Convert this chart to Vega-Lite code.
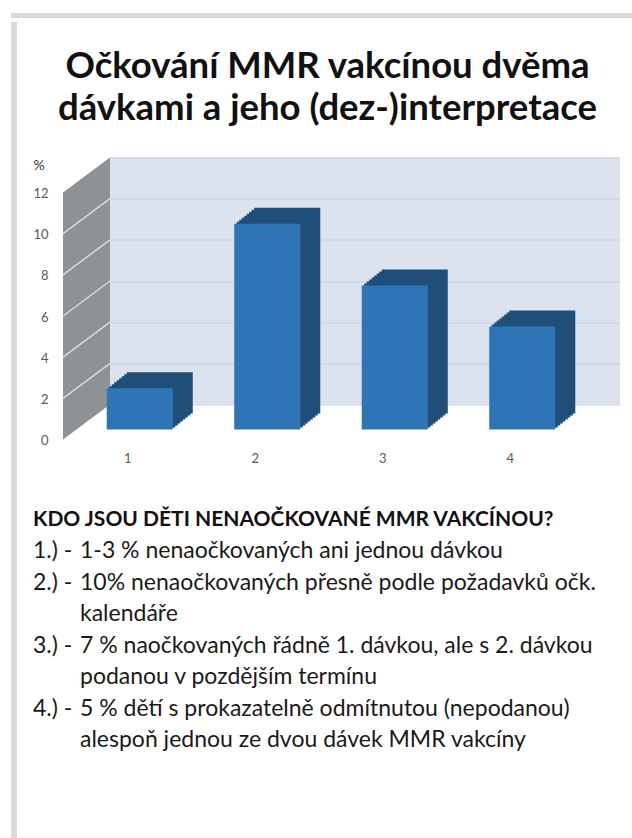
{
  "$schema": "https://vega.github.io/schema/vega-lite/v6.json",
  "background": "white",
  "padding": {"left": 11, "top": 12, "right": 0, "bottom": 0},
  "config": {"view": {"stroke": null}, "font": "Lato"},
  "spacing": 0,
  "vconcat": [
    {
      "width": 621,
      "height": 5,
      "view": {"fill": "#d9d9d9", "stroke": null},
      "data": {"values": [{"part": "frame"}]},
      "mark": {"type": "point", "opacity": 0},
      "encoding": {}
    },
    {
      "spacing": 0,
      "hconcat": [
        {
          "width": 6,
          "height": 821,
          "view": {"fill": "#d9d9d9", "stroke": null},
          "data": {"values": [{"part": "frame"}]},
          "mark": {"type": "point", "opacity": 0},
          "encoding": {}
        },
        {
          "spacing": 22.5,
          "vconcat": [
            {
              "width": 1,
              "height": 1,
              "data": {"values": [{"part": "spacer"}]},
              "mark": {"type": "point", "opacity": 0},
              "encoding": {}
            },
            {
              "width": 510,
              "height": 247,
              "view": {"fill": "#dce2ee", "stroke": null},
              "title": {
                "text": ["Očkování MMR vakcínou dvěma", "dávkami a jeho (dez-)interpretace"],
                "anchor": "middle",
                "frame": "group",
                "offset": 30,
                "dx": -37.5,
                "font": "Lato",
                "fontSize": 36.5,
                "fontWeight": "bold",
                "lineHeight": 42,
                "color": "#111111"
              },
              "data": {"values": [
                {"dose": "1", "pct": 2},
                {"dose": "2", "pct": 10},
                {"dose": "3", "pct": 7},
                {"dose": "4", "pct": 5}
              ]},
              "layer": [
                {
                  "data": {"values": [{"part": "side wall"}]},
                  "mark": {"type": "point", "shape": "M0.1667,-1L0.1667,0.752L-0.1667,1L-0.1667,-0.752Z", "size": 79524, "filled": true, "color": "#8e9297", "opacity": 1, "yOffset": 17.5},
                  "encoding": {
                    "x": {"value": -23.5},
                    "y": {"datum": 6, "type": "quantitative", "scale": {"domain": [0, 12], "nice": false},
                      "axis": {"title": "%", "titleAngle": 0, "titleX": -77, "titleY": 8, "titleAlign": "left", "titleBaseline": "middle", "titleFont": "Lato", "titleFontSize": 14, "titleFontWeight": "normal", "titleColor": "#333333",
                        "values": [0, 2, 4, 6, 8, 10, 12], "labelOffset": 36, "labelPadding": 62, "ticks": false, "tickSize": 0, "domain": false, "grid": true, "gridColor": "#c8cfdc", "gridWidth": 1, "labelFont": "Lato", "labelFontSize": 13, "labelColor": "#595959", "minExtent": 93}}
                  }
                },
                {
                  "data": {"values": [{"v": 2}, {"v": 4}, {"v": 6}, {"v": 8}, {"v": 10}]},
                  "mark": {"type": "rule", "color": "#d9dbde", "strokeWidth": 1.5, "yOffset": 35, "y2Offset": 0},
                  "encoding": {
                    "x": {"value": -47},
                    "x2": {"value": 0},
                    "y": {"field": "v", "type": "quantitative"},
                    "y2": {"field": "v"}
                  }
                },
                {"mark": {"type": "bar", "color": "#1f4e79", "xOffset": -31.5, "x2Offset": -31.5, "yOffset": 23, "y2Offset": 23},
                 "encoding": {"x": {"field": "dose", "type": "nominal", "scale": {"paddingInner": 0.482, "paddingOuter": 0.241}, "axis": {"title": null, "labelAngle": 0, "labelOffset": -46, "labelPadding": 48, "ticks": false, "tickSize": 0, "domain": false, "labelFont": "Lato", "labelFontSize": 13, "labelColor": "#595959"}}, "y": {"field": "pct", "type": "quantitative"}}},
                {"mark": {"type": "bar", "color": "#1f4e79", "xOffset": -29, "x2Offset": -29, "yOffset": 21, "y2Offset": 21},
                 "encoding": {"x": {"field": "dose", "type": "nominal"}, "y": {"field": "pct", "type": "quantitative"}}},
                {"mark": {"type": "bar", "color": "#1f4e79", "xOffset": -26.5, "x2Offset": -26.5, "yOffset": 19, "y2Offset": 19},
                 "encoding": {"x": {"field": "dose", "type": "nominal"}, "y": {"field": "pct", "type": "quantitative"}}},
                {"mark": {"type": "bar", "color": "#1f4e79", "xOffset": -24, "x2Offset": -24, "yOffset": 17, "y2Offset": 17},
                 "encoding": {"x": {"field": "dose", "type": "nominal"}, "y": {"field": "pct", "type": "quantitative"}}},
                {"mark": {"type": "bar", "color": "#1f4e79", "xOffset": -21.5, "x2Offset": -21.5, "yOffset": 15, "y2Offset": 15},
                 "encoding": {"x": {"field": "dose", "type": "nominal"}, "y": {"field": "pct", "type": "quantitative"}}},
                {"mark": {"type": "bar", "color": "#1f4e79", "xOffset": -19, "x2Offset": -19, "yOffset": 13, "y2Offset": 13},
                 "encoding": {"x": {"field": "dose", "type": "nominal"}, "y": {"field": "pct", "type": "quantitative"}}},
                {"mark": {"type": "bar", "color": "#1f4e79", "xOffset": -16.5, "x2Offset": -16.5, "yOffset": 11, "y2Offset": 11},
                 "encoding": {"x": {"field": "dose", "type": "nominal"}, "y": {"field": "pct", "type": "quantitative"}}},
                {"mark": {"type": "bar", "color": "#1f4e79", "xOffset": -14, "x2Offset": -14, "yOffset": 9, "y2Offset": 9},
                 "encoding": {"x": {"field": "dose", "type": "nominal"}, "y": {"field": "pct", "type": "quantitative"}}},
                {"mark": {"type": "bar", "color": "#2e75b6", "xOffset": -34, "x2Offset": -34, "yOffset": 25, "y2Offset": 25},
                 "encoding": {"x": {"field": "dose", "type": "nominal"}, "y": {"field": "pct", "type": "quantitative"}}}
              ]
            },
            {
              "width": 500,
              "height": 284,
              "data": {"values": [
                {"line": 1, "col": "num", "kind": "header", "text": "KDO JSOU DĚTI NENAOČKOVANÉ MMR VAKCÍNOU?"},
                {"line": 2, "col": "num", "kind": "item", "text": "1.) -"},
                {"line": 2, "col": "text", "kind": "item", "text": "1-3 % nenaočkovaných ani jednou dávkou"},
                {"line": 3, "col": "num", "kind": "item", "text": "2.) -"},
                {"line": 3, "col": "text", "kind": "item", "text": "10% nenaočkovaných přesně podle požadavků očk."},
                {"line": 4, "col": "text", "kind": "item", "text": "kalendáře"},
                {"line": 5, "col": "num", "kind": "item", "text": "3.) -"},
                {"line": 5, "col": "text", "kind": "item", "text": "7 % naočkovaných řádně 1. dávkou, ale s 2. dávkou"},
                {"line": 6, "col": "text", "kind": "item", "text": "podanou v pozdějším termínu"},
                {"line": 7, "col": "num", "kind": "item", "text": "4.) -"},
                {"line": 7, "col": "text", "kind": "item", "text": "5 % dětí s prokazatelně odmítnutou (nepodanou)"},
                {"line": 8, "col": "text", "kind": "item", "text": "alespoň jednou ze dvou dávek MMR vakcíny"}
              ]},
              "encoding": {
                "x": {"field": "col", "type": "ordinal", "scale": {"type": "point", "domain": ["num", "text"], "range": [-77, -30], "padding": 0}, "axis": null},
                "y": {"field": "line", "type": "ordinal", "scale": {"type": "point", "padding": 1.233}, "axis": null},
                "text": {"field": "text"}
              },
              "layer": [
                {"transform": [{"filter": "datum.kind === 'header'"}],
                 "mark": {"type": "text", "align": "left", "baseline": "middle", "font": "Lato", "fontSize": 21, "fontWeight": "bold", "color": "#111111"}},
                {"transform": [{"filter": "datum.kind !== 'header'"}],
                 "mark": {"type": "text", "align": "left", "baseline": "middle", "font": "Lato", "fontSize": 23, "color": "#1a1a1a"}}
              ]
            }
          ]
        }
      ]
    }
  ]
}
